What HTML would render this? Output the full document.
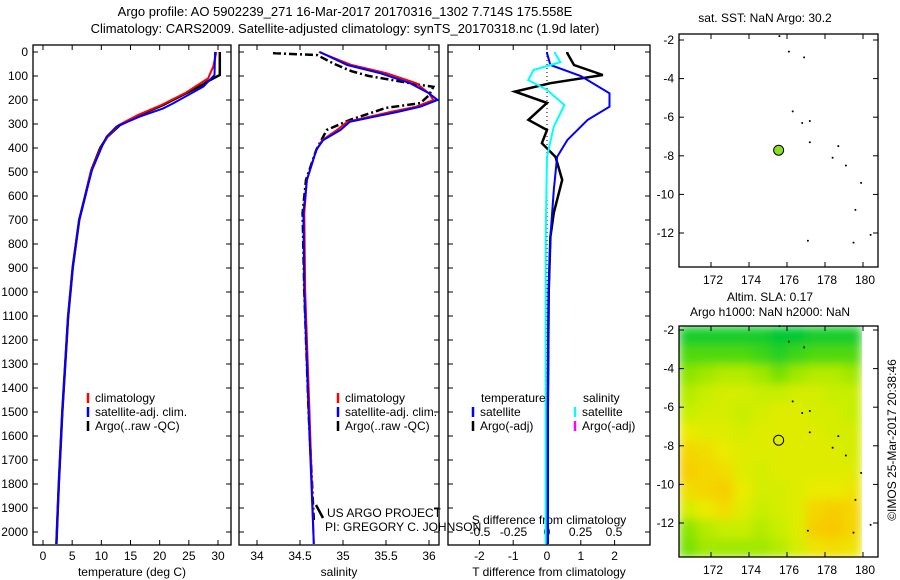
<!DOCTYPE html>
<html><head><meta charset="utf-8"><style>
body{margin:0;background:#fff;}
svg{display:block;font-family:"Liberation Sans",sans-serif;font-size:12px;}
</style></head><body>
<svg id="c" width="900" height="580" xmlns="http://www.w3.org/2000/svg">
<defs>
<filter id="blur" x="0" y="0" width="1" height="1"><feGaussianBlur stdDeviation="5" edgeMode="duplicate"/></filter>
<clipPath id="mapclip"><rect x="679" y="326" width="187" height="231"/></clipPath>
</defs>
<text x="345" y="16" text-anchor="middle" font-size="13">Argo profile: AO 5902239_271 16-Mar-2017 20170316_1302 7.714S 175.558E</text>
<text x="345" y="33" text-anchor="middle" font-size="13">Climatology: CARS2009. Satellite-adjusted climatology: synTS_20170318.nc (1.9d later)</text>
<g id="heatg" clip-path="url(#mapclip)"><g id="heat" filter="url(#blur)"></g></g>
<g id="g"></g>
</svg>
<script>
const depths=[0,50,96,124,135,171,221,262,304,354,400,492,603,700,895,1104,1500,1800,2050];
const tArgo=[30.3,30.3,30.3,28.1,27.5,24.6,20.6,16.6,13.2,11.0,9.8,8.3,7.2,6.2,5.1,4.3,3.3,2.7,2.3];
const cDepthsT=[0,60,110,172,221,262,304,354,400,492,603,700,895,1104,1500,1800,2050];
const tClim=[29.7,29.2,28.3,24.3,20.3,16.3,13.0,11.0,9.9,8.3,7.2,6.2,5.1,4.3,3.3,2.7,2.3];
const sDepthsT=[0,96,144,214,235,269,311,353,394,492,603,700,895,1104,1500,1800,2050];
const tSat=[29.5,29.4,27.5,22.3,20.6,16.6,12.6,10.9,10.1,8.4,7.2,6.2,5.1,4.3,3.3,2.7,2.3];
const sDepths=[0,54,88,130,172,200,228,250,291,325,367,408,533,671,1000,1500,2050];
const sClim=[34.72,35.1,35.5,35.85,36.0,36.05,35.85,35.55,35.05,34.93,34.76,34.69,34.58,34.55,34.56,34.61,34.66];
const sSat=[34.73,35.05,35.43,35.78,36.0,36.1,35.9,35.63,35.08,34.97,34.77,34.69,34.58,34.54,34.55,34.6,34.66];
const aDepths=[0,5,13,50,80,100,137,145,180,213,233,283,325,408,533,671,1000,1500,1950];
const sArgo=[34.2,34.2,34.7,34.9,35.1,35.3,35.9,36.05,36.0,35.9,35.5,35.08,34.81,34.69,34.57,34.53,34.55,34.6,34.66];
const dDepths=[0,5,54,96,130,165,212,283,325,380,437,533,670,770,1000,1500,2050];
const dTargo=[0.6,0.6,0.8,1.65,0.1,-0.95,0,-0.55,0,-0.15,0.25,0.45,0.2,0.1,0.05,0.02,0.02];
const bDepths=[0,5,54,100,172,228,283,367,437,575,770,1000,1500,2050];
const dTsat=[0,0,0.1,1.0,1.85,1.85,1.2,0.6,0.3,0.2,0.1,0.05,0.03,0.03];
const cDepths=[0,5,42,75,117,158,221,312,437,770,1500,2050];
const dSsat=[0.06,0.06,0.1,-0.1,-0.14,0,0.13,0.05,0,-0.01,-0.01,-0.01];
const tTicks=[0,5,10,15,20,25,30];
const sTicks=[34,34.5,35,35.5,36];
const dTticks=[-2,-1,0,1,2];
const dSticks=[-0.5,-0.25,0,0.25,0.5];
const depthTicks=[0,100,200,300,400,500,600,700,800,900,1000,1100,1200,1300,1400,1500,1600,1700,1800,1900,2000];
const lonTicks=[172,174,176,178,180];
const latTicks=[-2,-4,-6,-8,-10,-12];
const heat=[
[0.05,0.05,0.05,0.05,0.05,0.0,0.0,0.05,0.05,0.05],
[0.2,0.2,0.2,0.2,0.15,0.1,0.15,0.2,0.2,0.2],
[0.35,0.4,0.45,0.45,0.4,0.3,0.4,0.45,0.45,0.4],
[0.45,0.5,0.55,0.55,0.5,0.5,0.55,0.55,0.5,0.5],
[0.5,0.55,0.55,0.5,0.55,0.6,0.6,0.55,0.55,0.5],
[0.65,0.6,0.6,0.55,0.6,0.6,0.6,0.6,0.55,0.55],
[0.8,0.75,0.65,0.6,0.6,0.6,0.6,0.6,0.6,0.55],
[0.85,0.8,0.75,0.6,0.55,0.6,0.6,0.6,0.6,0.6],
[0.75,0.8,0.85,0.65,0.55,0.55,0.6,0.65,0.65,0.7],
[0.55,0.65,0.75,0.6,0.5,0.55,0.6,0.8,0.85,0.8],
[0.35,0.45,0.5,0.5,0.45,0.5,0.6,0.85,0.9,0.8],
[0.3,0.4,0.4,0.4,0.4,0.45,0.55,0.7,0.75,0.7]];
const argoLon=175.56, argoLat=-7.71;

const G=document.getElementById('g');const H=document.getElementById('heat');const NS='http://www.w3.org/2000/svg';
function el(t,a,txt,parent){const e=document.createElementNS(NS,t);for(const k in a)e.setAttribute(k,a[k]);if(txt!==undefined)e.textContent=txt;(parent||G).appendChild(e);return e;}
const yD=d=>52+d*0.24;
const xT=v=>43+v*(175/30);
const xS=v=>257+(v-34)*86;
const xDT=v=>547+v*33.8;
const xDS=v=>547+v*134;
function frame(x0,x1,y0,y1,name){const r=el('rect',{x:x0,y:y0,width:x1-x0,height:y1-y0,fill:'none',stroke:'#000','stroke-width':1.3});}
function line(xs,ys,fx,fy,col,w,dash,name){const p=xs.map((v,i)=>fx(v).toFixed(1)+','+fy(ys[i]).toFixed(1)).join(' ');const a={points:p,fill:'none',stroke:col,'stroke-width':w};if(dash)a['stroke-dasharray']=dash;const e=el('polyline',a);}
function txt(x,y,s,anchor,name,extra){const a={x:x,y:y,'text-anchor':anchor||'start'};Object.assign(a,extra||{});const e=el('text',a,s);return e;}
const bottom=545;
const panels=[[33,231],[239,439],[448,650]];
panels.forEach((p,pi)=>{depthTicks.forEach(d=>{el('line',{x1:p[0],x2:p[0]+5,y1:yD(d),y2:yD(d),stroke:'#000'});el('line',{x1:p[1],x2:p[1]-5,y1:yD(d),y2:yD(d),stroke:'#000'});});});
depthTicks.forEach(d=>txt(28,yD(d)+4,String(d),'end','depth-tick-label'));
function xticks(arr,f,p,name){arr.forEach(v=>{el('line',{x1:f(v),x2:f(v),y1:bottom,y2:bottom-5,stroke:'#000'});el('line',{x1:f(v),x2:f(v),y1:45,y2:50,stroke:'#000'});txt(f(v),560,String(v),'middle',name);});}
xticks(tTicks,xT,panels[0],'temperature-tick-label');
xticks(sTicks,xS,panels[1],'salinity-tick-label');
xticks(dTticks,xDT,panels[2],'t-diff-tick-label');
dSticks.forEach(v=>txt(xDS(v),536,String(v),'middle','s-diff-tick-label'));
txt(132,576,'temperature (deg C)','middle','x-axis-title-temperature');
txt(339,576,'salinity','middle','x-axis-title-salinity');
txt(549,576,'T difference from climatology','middle','x-axis-title-t-diff');
txt(549,524,'S difference from climatology','middle','s-diff-axis-title');
line(tArgo,depths,xT,yD,'#000',2.5,null,'temp-argo-line');
line(tClim,cDepthsT,xT,yD,'#f00',2,null,'temp-climatology-line');
line(tSat,sDepthsT,xT,yD,'#00f',2,null,'temp-satellite-line');
line(sArgo,aDepths,xS,yD,'#000',2.5,'8,3,2,3','sal-argo-line');
line(sClim,sDepths,xS,yD,'#f00',2,null,'sal-climatology-line');
line(sSat,sDepths,xS,yD,'#00f',2,null,'sal-satellite-line');
el('line',{x1:547,x2:547,y1:52,y2:bottom,stroke:'#000','stroke-dasharray':'1,3'});
line(dTargo,dDepths,xDT,yD,'#000',2.5,null,'t-diff-argo-line');
line(dTsat,bDepths,xDT,yD,'#00f',2,null,'t-diff-satellite-line');
line(dSsat,cDepths,xDS,yD,'#0ff',2,null,'s-diff-satellite-line');
panels.forEach((p,i)=>frame(p[0],p[1],45,bottom,'profile-panel-frame'));
function leg(x,y,col,label,name){el('line',{x1:x,x2:x,y1:y-9,y2:y+1,stroke:col,'stroke-width':2.5});txt(x+7,y,label,'start',name);}
leg(88,402,'#f00','climatology','legend-climatology');leg(88,416,'#00f','satellite-adj. clim.','legend-satellite');leg(88,430,'#000','Argo(..raw -QC)','legend-argo');
leg(338,402,'#f00','climatology','legend-climatology');leg(338,416,'#00f','satellite-adj. clim.','legend-satellite');leg(338,430,'#000','Argo(..raw -QC)','legend-argo');
txt(481,402,'temperature','start','legend-temperature-header');txt(583,402,'salinity','start','legend-salinity-header');
leg(473,416,'#00f','satellite','legend-t-satellite');leg(473,430,'#000','Argo(-adj)','legend-t-argo');
leg(575,416,'#0ff','satellite','legend-s-satellite');leg(575,430,'#f0f','Argo(-adj)','legend-s-argo');
txt(327,517,'US ARGO PROJECT','start','pi-project-label');txt(325,531,'PI: GREGORY C. JOHNSON','start','pi-name-label');
el('line',{x1:316,x2:323,y1:505,y2:518,stroke:'#000','stroke-width':2.5});
// maps
const mx=v=>711+(v-172)*19;
const my1=v=>40+(-2-v)*19.3;
const my2=v=>330+(-2-v)*19.3;
txt(765,22,'sat. SST: NaN Argo: 30.2','middle','sst-map-title');
function mapAxes(fy,y0,y1,name){lonTicks.forEach(v=>{el('line',{x1:mx(v),x2:mx(v),y1:y1,y2:y1-5,stroke:'#000'});el('line',{x1:mx(v),x2:mx(v),y1:y0,y2:y0+5,stroke:'#000'});txt(mx(v)+2,y1+17,String(v),'middle',name+'-lon-tick');});
latTicks.forEach(v=>{el('line',{x1:679,x2:684,y1:fy(v),y2:fy(v),stroke:'#000'});el('line',{x1:878,x2:873,y1:fy(v),y2:fy(v),stroke:'#000'});txt(674,fy(v)+4,String(v),'end',name+'-lat-tick');});}
frame(679,878,34,267,'sst-map-frame');
mapAxes(my1,34,267,'sst-map');
const dots=[[175.6,-1.8],[176.1,-2.6],[176.9,-2.9],[176.3,-5.7],[176.8,-6.3],[177.2,-6.2],[177.2,-7.3],[178.7,-7.5],[178.4,-8.1],[179.1,-8.5],[179.9,-9.4],[179.6,-10.8],[177.1,-12.4],[179.5,-12.5],[180.4,-12.1]];
dots.forEach(d=>{const e=el('circle',{cx:mx(d[0]),cy:my1(d[1]),r:1,fill:'#000'});});
const pt=el('circle',{cx:mx(argoLon),cy:my1(argoLat),r:5,fill:'#88dd22',stroke:'#000'});
txt(770,301,'Altim. SLA: 0.17','middle','sla-map-title-1');txt(770,316,'Argo h1000: NaN h2000: NaN','middle','sla-map-title-2');
function col(v){const stops=[[0,[0,200,50]],[0.3,[120,225,0]],[0.5,[200,238,0]],[0.65,[235,235,0]],[1,[255,185,0]]];for(let i=1;i<stops.length;i++){if(v<=stops[i][0]){const a=stops[i-1],b=stops[i],t=(v-a[0])/(b[0]-a[0]);return 'rgb('+a[1].map((c,j)=>Math.round(c+(b[1][j]-c)*t)).join(',')+')';}}return 'rgb(255,185,0)';}
const lon0=170.3,lat0=-1.8,dLon=0.96,dLat=1.0;
heat.forEach((row,r)=>row.forEach((v,c)=>{const x=mx(lon0+c*dLon),y=my2(lat0-r*dLat);const e=el('rect',{x:x,y:y,width:dLon*19+0.5,height:dLat*19.3+0.5,fill:col(v)},undefined,H);}));
frame(679,878,326,557,'sla-map-frame');
mapAxes(my2,326,557,'sla-map');
dots.forEach(d=>{const e=el('circle',{cx:mx(d[0]),cy:my2(d[1]),r:1,fill:'#000'});});
const pt2=el('circle',{cx:mx(argoLon),cy:my2(argoLat),r:5,fill:'none',stroke:'#000'});
txt(896,440,'©IMOS 25-Mar-2017 20:38:46','middle','copyright-timestamp',{transform:'rotate(-90 896 440)'});
</script>
</body></html>
